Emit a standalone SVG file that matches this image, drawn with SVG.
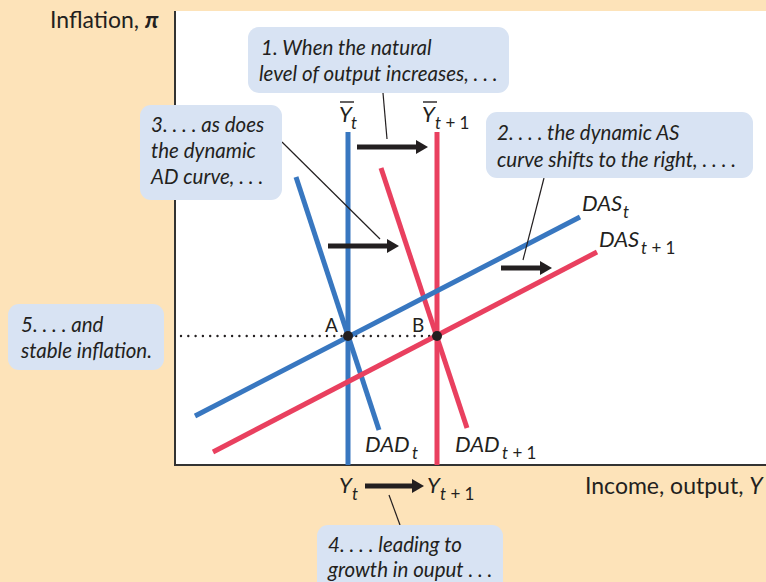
<svg xmlns="http://www.w3.org/2000/svg" width="766" height="582" viewBox="0 0 766 582">
<style>
text{font-family:Lato,"Open Sans","Liberation Sans",sans-serif;fill:#231f20}
.lab{font-size:22px}
.ax{font-size:23px}
.pt{font-size:19px}
.it{font-style:italic}
.call{font-size:20.5px;font-style:italic}
.sub{font-size:17px;font-style:italic}
.up{font-style:normal}
.box{fill:#d8e3f3}
.blue{stroke:#3877c0;stroke-width:5;fill:none}
.red{stroke:#e9405f;stroke-width:5;fill:none}
.lead{stroke:#231f20;stroke-width:1.2;fill:none}
.bar{stroke:#231f20;stroke-width:1.4}
.arr{stroke:#231f20;stroke-width:5;fill:none;marker-end:url(#ah)}
</style>
<defs>
<marker id="ah" markerUnits="userSpaceOnUse" viewBox="0 0 12 14" refX="6" refY="7" markerWidth="12" markerHeight="14" orient="auto">
<path d="M0,0 L12,7 L0,14 Z" fill="#231f20"/>
</marker>
</defs>
<rect x="0" y="0" width="766" height="582" fill="#fde3b9"/>
<rect x="175" y="11" width="591" height="454" fill="#ffffff"/>
<g id="axes">
<path d="M175,11 V465 H766" stroke="#333" stroke-width="2" fill="none"/>
<text class="ax" x="50" y="28">Inflation, <tspan font-weight="bold" class="it">π</tspan></text>
<text class="ax" x="585" y="494">Income, output, <tspan class="it">Y</tspan></text>
</g>
<g id="guide">
<line x1="181" y1="336" x2="437" y2="336" stroke="#231f20" stroke-width="2.4" stroke-linecap="round" stroke-dasharray="0 7.3"/>
</g>
<g id="curves">
<line class="blue" x1="348" y1="132" x2="348" y2="465"/>
<line class="red" x1="437" y1="132" x2="437" y2="465"/>
<line class="blue" x1="296" y1="177" x2="379" y2="430"/>
<line class="red" x1="381" y1="168" x2="467" y2="428"/>
<line class="blue" x1="195" y1="416" x2="580" y2="217"/>
<line class="red" x1="213" y1="452" x2="597" y2="252"/>
</g>
<g id="points">
<circle cx="348" cy="336" r="5" fill="#231f20"/>
<circle cx="437" cy="336" r="5" fill="#231f20"/>
<text class="pt" x="325" y="332">A</text>
<text class="pt" x="412" y="332">B</text>
</g>
<g id="labels">
<text class="lab it" x="339" y="122">Y</text>
<line class="bar" x1="340" y1="102" x2="354" y2="102"/>
<text class="sub" x="351" y="129">t</text>
<text class="lab it" x="422" y="122">Y</text>
<line class="bar" x1="423" y1="102" x2="437" y2="102"/>
<text class="sub" x="435" y="129">t<tspan class="up"> + 1</tspan></text>
<text class="lab it" x="582" y="211">DAS</text>
<text class="sub" x="623" y="218">t</text>
<text class="lab it" x="599" y="247">DAS</text>
<text class="sub" x="641" y="254">t<tspan class="up"> + 1</tspan></text>
<text class="lab it" x="365" y="452">DAD</text>
<text class="sub" x="412" y="459">t</text>
<text class="lab it" x="455" y="452">DAD</text>
<text class="sub" x="502" y="459">t<tspan class="up"> + 1</tspan></text>
<text class="lab it" x="339" y="493">Y</text>
<text class="sub" x="352" y="500">t</text>
<text class="lab it" x="427" y="493">Y</text>
<text class="sub" x="440" y="500">t<tspan class="up"> + 1</tspan></text>
</g>
<g id="connectors">
<line class="arr" x1="357" y1="147" x2="422" y2="147"/>
<line class="arr" x1="328" y1="246" x2="393" y2="246"/>
<line class="arr" x1="501" y1="268" x2="546" y2="268"/>
<line class="arr" x1="365" y1="486" x2="418" y2="486"/>
<line class="lead" x1="383" y1="93" x2="387" y2="139"/>
<line class="lead" x1="282" y1="142" x2="380" y2="239"/>
<line class="lead" x1="544" y1="178" x2="523" y2="260"/>
<line class="lead" x1="389" y1="495" x2="400" y2="525"/>
</g>
<g id="callout1">
<rect class="box" x="248" y="27" width="261" height="66" rx="11"/>
<text class="call" x="261" y="55">1. When the natural</text>
<text class="call" x="259" y="81">level of output increases, . . .</text>
</g>
<g id="callout2">
<rect class="box" x="486" y="112" width="267" height="66" rx="11"/>
<text class="call" x="497" y="140">2. . . . the dynamic AS</text>
<text class="call" x="497" y="167">curve shifts to the right, . . . .</text>
</g>
<g id="callout3">
<rect class="box" x="140" y="105" width="142" height="95" rx="11"/>
<text class="call" x="151" y="132">3. . . . as does</text>
<text class="call" x="151" y="158">the dynamic</text>
<text class="call" x="151" y="184">AD curve, . . .</text>
</g>
<g id="callout4">
<rect class="box" x="317" y="525" width="186" height="70" rx="11"/>
<text class="call" x="328" y="552">4. . . . leading to</text>
<text class="call" x="328" y="577">growth in ouput . . .</text>
</g>
<g id="callout5">
<rect class="box" x="8" y="304" width="156" height="66" rx="11"/>
<text class="call" x="21" y="332">5. . . . and</text>
<text class="call" x="21" y="358">stable inflation.</text>
</g>
</svg>
